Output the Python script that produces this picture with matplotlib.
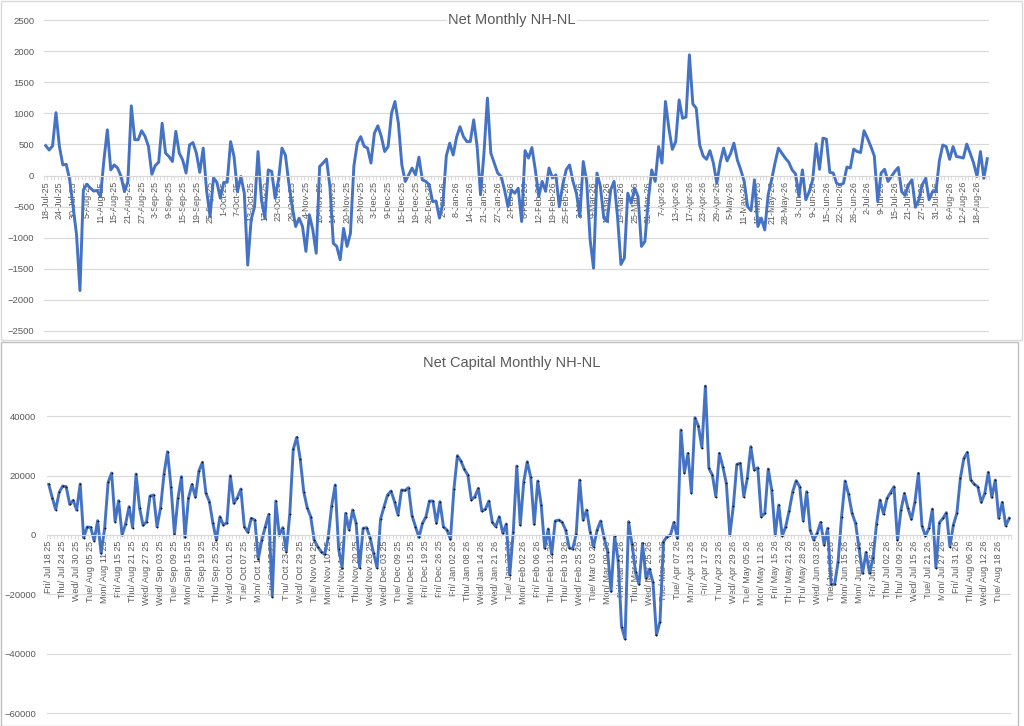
import pandas as pd
import matplotlib.pyplot as plt
from matplotlib.patches import Rectangle
from matplotlib.ticker import FixedLocator, NullFormatter

plt.rcParams['font.family'] = ['Liberation Sans', 'DejaVu Sans']

# trading days (NYSE) from 18-Jul-25 to 21-Aug-26
start_date = "2025-07-18"
end_date = "2026-08-21"
holidays = ["2025-09-01", "2025-11-27", "2025-12-25", "2026-01-01", "2026-01-19",
            "2026-02-16", "2026-04-03", "2026-05-25", "2026-06-19", "2026-07-03"]

net_nh_nl = [
    480, 410, 475, 1010, 465, 170, 180, -70, -500, -950,
    -1850, -230, -140, -200, -250, -240, -340, 250, 735, 90,
    170, 120, -15, -260, -100, 1120, 575, 575, 720, 630,
    470, 20, 160, 215, 840, 360, 305, 225, 710, 360,
    250, 40, 490, 530, 360, 50, 440, -250, -660, -40,
    -110, -365, -110, -110, 545, 305, -260, -15, -285, -1440,
    -710, -500, 385, -390, -685, 90, 65, -365, -70, 440,
    330, -120, -500, -820, -685, -820, -1220, -630, -870, -1250,
    145, 200, 265, -175, -1090, -1140, -1355, -850, -1140, -930,
    150, 520, 625, 470, 440, 200, 680, 800, 630, 385,
    465, 1000, 1190, 840, 175, -95, 10, 120, 10, 295,
    -70, -95, -150, -420, -410, -685, -445, 315, 520, 330,
    615, 785, 625, 545, 545, 895, 465, -310, 360, 1245,
    360, 200, 40, -15, -230, -500, -230, -285, -205, -740,
    400, 280, 450, 90, -340, -95, -255, 120, -40, 10,
    -500, -150, 90, 170, -95, -285, -660, 225, -95, -1030,
    -1490, 40, -175, -685, -740, -230, -95, -660, -1430, -1325,
    -285, -445, -205, -340, -1140, -1060, -390, 90, -95, 465,
    200, 1190, 760, 420, 545, 1215, 920, 940, 1940, 1150,
    1080, 490, 315, 260, 400, 200, -125, 215, 440, 235,
    350, 520, 250, 90, -95, -500, -565, -70, -820, -685,
    -875, -310, -70, 200, 440, 360, 280, 215, 90, 25,
    -340, 90, -390, -260, -70, 510, 100, 600, 585, 50,
    40, -125, -150, -125, 135, 120, 425, 385, 370, 720,
    600, 465, 315, -420, 40, 100, -95, -15, 65, 130,
    -260, -320, -150, -70, -510, -390, -150, -45, -390, -260,
    -260, 235, 490, 465, 260, 465, 305, 295, 280, 505,
    360, 200, -15, 385, -45, 270,
]

net_capital = [
    17050, 12570, 8530, 14360, 16500, 16270, 10320, 11670, 8415, 17170,
    -900, 2690, 2580, -1900, 4820, -6170, 2240, 17730, 20870, 4490,
    11560, 0, 3700, 9540, 2470, 20530, 9200, 3250, 4490, 13130,
    13460, 2800, 8980, 20530, 28050, 16270, 340, 12340, 19640, -785,
    12340, 17050, 12790, 21650, 24460, 14025, 11220, 3930, -1680, 6170,
    3370, 4150, 19970, 10660, 12570, 15480, 2800, 900, 5610, 5050,
    -8080, -1680, 2800, 6960, -20760, 11440, 0, 2470, -5610, 6960,
    28840, 32880, 25580, 14590, 9200, 6170, -1680, -3930, -5610, -6510,
    -900, 9760, 16830, -4710, -11000, 7290, 1680, 8415, 3930, -11000,
    2240, 2470, -900, -6170, -11000, 5390, 9540, 13460, 14810, 11220,
    6730, 15150, 15000, 15930, 6500, 2800, -785, 3930, 6170, 11440,
    11440, 3930, 11220, 2800, 1680, -1460, 15370, 26700, 24900, 22100,
    20200, 11780, 12900, 15700, 8080, 8640, 11440, 4260, 2800, 6170,
    560, 3700, -13460, 1120, 23230, 3370, 17950, 24680, 19410, 3590,
    18180, 10100, -4490, 2020, -6510, 4710, 5050, 4260, 1680, -4260,
    -4710, 220, 18510, 5050, 8415, 1120, -3930, 1680, 4710, -900,
    -5610, -19000, -340, -8415, -30860, -35000, 4490, -3140, -12340, -16610,
    -2800, -14590, -11440, -15930, -33660, -29170, -2240, -560, 0, 4260,
    -1120, 35340, 20980, 27490, 14250, 39500, 36690, 29400, 50150, 22440,
    20200, 12900, 27490, 23000, 17390, 0, 9760, 23790, 24120, 12900,
    19070, 29730, 21880, 22660, 6170, 7290, 22220, 15150, 0, 10100,
    -340, 2800, 8190, 14590, 18290, 16270, 4820, 14590, 1680, -1680,
    560, 4260, -3370, 2240, -16610, -16610, -8980, 6170, 18180, 13690,
    7290, 3930, -4490, -12900, -5830, -12900, -7850, 3700, 11780, 7070,
    12340, 14250, 16270, -1680, 8415, 14025, 8980, 5270, 11220, 20760,
    3140, -340, 2240, 8750, -11000, 4150, 5610, 7520, -3930, 3370,
    7290, 19070, 25810, 27830, 18510, 17050, 16270, 11000, 14025, 21090,
    12680, 18510, 5610, 11000, 3140, 5610,
]

days = pd.bdate_range(start_date, end_date)
days = days[~days.isin(pd.to_datetime(holidays))][:len(net_nh_nl)]
top_labels = [f"{d.day}-{d.strftime('%b-%y')}" for d in days]
bottom_labels = [d.strftime("%a/ %b %d %y") for d in days]

x = list(range(len(days)))
label_step = 4
blue = "#4472C4"
grid_c = "#D9D9D9"
text_c = "#595959"

W, H = 1024, 726
fig = plt.figure(figsize=(W / 100, H / 100), dpi=100)


def fig_rect(x0, y0, x1, y1):
    # pixel box (top-left origin) -> figure fraction
    return [x0 / W, 1 - y1 / H, (x1 - x0) / W, (y1 - y0) / H]


# chart borders
r = fig_rect(0.5, 0.5, 1022, 340)
fig.patches.append(Rectangle((r[0], r[1]), r[2], r[3], transform=fig.transFigure,
                             fill=False, edgecolor=grid_c, lw=1))
r = fig_rect(0.5, 342, 1018, 725.5)
fig.patches.append(Rectangle((r[0], r[1]), r[2], r[3], transform=fig.transFigure,
                             fill=False, edgecolor="#BFBFBF", lw=1))


def style_axis(ax, labels, yticks, ypad):
    ax.set_xlim(-0.5, len(x) - 0.5)
    for s in ["top", "right", "left"]:
        ax.spines[s].set_visible(False)
    ax.spines["bottom"].set_position(("data", 0))
    ax.spines["bottom"].set_color(grid_c)
    ax.spines["bottom"].set_linewidth(0.8)
    ax.set_yticks(yticks)
    ax.yaxis.grid(True, color=grid_c, linewidth=0.8)
    ax.set_axisbelow(True)
    ax.tick_params(axis="y", length=0, pad=ypad, labelsize=6.8, labelcolor=text_c)
    major = x[::label_step]
    ax.set_xticks(major)
    ax.set_xticklabels([labels[i] for i in major], rotation=90)
    ax.xaxis.set_minor_locator(FixedLocator([i - 0.5 for i in x] + [x[-1] + 0.5]))
    ax.xaxis.set_minor_formatter(NullFormatter())
    ax.tick_params(axis="x", which="major", length=0, pad=4, labelsize=6.5, labelcolor=text_c)
    ax.tick_params(axis="x", which="minor", length=3, width=0.6, color=grid_c, direction="out")


# top chart: 2500 at y=20, -2500 at y=331
ppu = (331 - 20) / 5000
ax1 = fig.add_axes(fig_rect(44, 20 - 100 * ppu, 989, 331 + 100 * ppu))
ax1.plot(x, net_nh_nl, color=blue, linewidth=2.1, solid_joinstyle="round")
ax1.set_ylim(-2600, 2600)
style_axis(ax1, top_labels, range(-2500, 2501, 500), 7)

# bottom chart: 0 at y=535, 20000 per 59.4 px
ppu2 = 59.4 / 20000
ax2 = fig.add_axes(fig_rect(47, 535 - 52000 * ppu2, 1011, 535 + 61000 * ppu2))
ax2.plot(x, net_capital, color=blue, linewidth=2.1, solid_joinstyle="round",
         marker="o", markersize=1.0, markerfacecolor="#1A1A1A", markeredgecolor="#1A1A1A",
         markeredgewidth=0.3)
ax2.set_ylim(-61000, 52000)
style_axis(ax2, bottom_labels, range(-60000, 40001, 20000), 8)

fig.text(512 / W, 1 - 20 / H, "Net Monthly NH-NL", ha="center", va="center",
         fontsize=10.5, color=text_c,
         bbox=dict(facecolor="white", edgecolor="none", pad=1))
fig.text(512 / W, 1 - 363 / H, "Net Capital Monthly NH-NL", ha="center", va="center",
         fontsize=10.5, color=text_c)

fig.savefig("out.png", dpi=100)
